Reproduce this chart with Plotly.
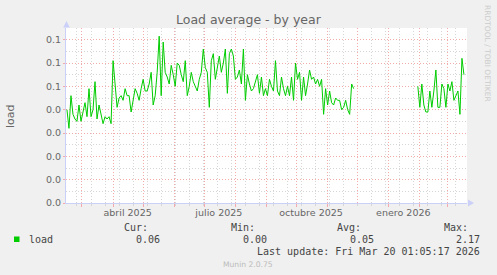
import plotly.graph_objects as go
import pandas as pd

# ---------------- data ----------------
title_text = "Load average - by year"
y_title = "load"
series_name = "load"

seg1_start = "2025-02-14"
seg1_values = [
    0.040, 0.032, 0.046, 0.038, 0.036, 0.035, 0.042, 0.035, 0.039, 0.043,
    0.037, 0.049, 0.037, 0.040, 0.052, 0.036, 0.042, 0.038, 0.034, 0.037,
    0.036, 0.037, 0.034, 0.061, 0.049, 0.041, 0.045, 0.046, 0.044, 0.049,
    0.046, 0.046, 0.039, 0.044, 0.049, 0.047, 0.044, 0.049, 0.053, 0.048,
    0.048, 0.051, 0.056, 0.042, 0.046, 0.056, 0.0715, 0.046, 0.069, 0.056,
    0.054, 0.051, 0.059, 0.055, 0.050, 0.060, 0.059, 0.055, 0.052, 0.061,
    0.046, 0.050, 0.056, 0.052, 0.050, 0.048, 0.053, 0.056, 0.066, 0.058,
    0.056, 0.041, 0.061, 0.064, 0.053, 0.059, 0.063, 0.056, 0.060, 0.066,
    0.047, 0.064, 0.066, 0.063, 0.053, 0.054, 0.057, 0.051, 0.066, 0.044,
    0.055, 0.051, 0.048, 0.049, 0.052, 0.055, 0.047, 0.054, 0.046, 0.049,
    0.046, 0.053, 0.050, 0.048, 0.061, 0.048, 0.046, 0.054, 0.049, 0.046,
    0.050, 0.046, 0.054, 0.044, 0.060, 0.053, 0.056, 0.044, 0.054, 0.046,
    0.051, 0.057, 0.053, 0.054, 0.051, 0.053, 0.050, 0.053, 0.038, 0.049,
    0.042, 0.048, 0.043, 0.042, 0.045, 0.044, 0.044, 0.040, 0.041, 0.044,
    0.040, 0.038, 0.051, 0.049,
]
seg2_start = "2026-01-30"
seg2_values = [
    0.050, 0.041, 0.051, 0.042, 0.039, 0.039, 0.048, 0.041, 0.048, 0.057,
    0.041, 0.041, 0.051, 0.049, 0.041, 0.051, 0.048, 0.052, 0.044, 0.046,
    0.048, 0.038, 0.062, 0.055,
]
gap_date = "2025-12-30"

x_start = "2025-02-13 01:05:17"
x_end = "2026-03-20 01:05:17"

y_tickvals = [0.00, 0.01, 0.02, 0.03, 0.04, 0.05, 0.06, 0.07]
y_ticktext = ["0.0", "0.0", "0.0", "0.0", "0.0", "0.1", "0.1", "0.1"]
y_max = 0.075
y_minor_step = 0.005

x_label_vals = ["2025-04-15 12:00", "2025-07-15 12:00",
                "2025-10-15 12:00", "2026-01-15 12:00"]
x_label_text = ["abril 2025", "julio 2025", "octubre 2025", "enero 2026"]
month_starts = pd.date_range("2025-03-01", "2026-03-01", freq="MS")
biweekly = pd.date_range("2025-02-24", "2026-03-19", freq="14D")

stat_names = ["Cur:", "Min:", "Avg:", "Max:"]
stat_values = ["0.06", "0.00", "0.05", "2.17"]
last_update = "Last update: Fri Mar 20 01:05:17 2026"
watermark = "RRDTOOL / TOBI OETIKER"
footer = "Munin 2.0.75"

# ---------------- styling ----------------
W, H = 497, 275
L, R, T, B = 66, 30, 28, 72
PW, PH = W - L - R, H - T - B

def px(x):
    return (x - L) / PW

def py(y):
    return (H - B - y) / PH

GREEN = "#00CC00"
FONT = "#666666"
AXIS = "#CAD0F8"
MGRID = "#F2AAAA"
GRID = "#D6D6D6"
SANS = "DejaVu Sans"
MONO = "DejaVu Sans Mono"

x1 = pd.date_range(seg1_start, periods=len(seg1_values), freq="2D")
x2 = pd.date_range(seg2_start, periods=len(seg2_values), freq="2D")
xs = list(x1) + [pd.Timestamp(gap_date)] + list(x2)
ys = list(seg1_values) + [None] + list(seg2_values)

fig = go.Figure()
fig.add_trace(go.Scatter(x=xs, y=ys, mode="lines", name=series_name,
                         line=dict(color=GREEN, width=1), connectgaps=False,
                         hoverinfo="skip", showlegend=False))
fig.add_trace(go.Scatter(x=[x_start, x_end], y=[0, 0], xaxis="x2", mode="markers",
                         marker=dict(opacity=0), hoverinfo="skip", showlegend=False))

dots = "1px,2px"
fig.update_layout(
    width=W, height=H,
    margin=dict(l=L, r=R, t=T, b=B, autoexpand=False),
    paper_bgcolor="#F0F0F0", plot_bgcolor="#FFFFFF",
    showlegend=False,
    font=dict(family=SANS, color=FONT, size=9.5),
    xaxis=dict(
        type="date", range=[x_start, x_end], tickmode="array",
        tickvals=list(month_starts), ticktext=[""] * len(month_starts),
        showgrid=True, gridcolor=MGRID, griddash=dots, gridwidth=1,
        ticks="outside", ticklen=3, tickcolor=MGRID, tickwidth=1,
        showline=True, linecolor=AXIS, linewidth=1, zeroline=False,
        minor=dict(tickvals=list(biweekly), showgrid=True, gridcolor=GRID,
                   griddash=dots, gridwidth=1, ticks="outside", ticklen=2,
                   tickcolor=GRID),
        fixedrange=True,
    ),
    xaxis2=dict(
        type="date", range=[x_start, x_end], overlaying="x", anchor="y",
        side="bottom", tickmode="array", tickvals=x_label_vals,
        ticktext=x_label_text, showgrid=False, ticks="", showline=False,
        zeroline=False, tickfont=dict(size=9.5, color=FONT, family=SANS),
        ticklabelstandoff=2,
    ),
    yaxis=dict(
        range=[0, y_max], tickmode="array", tickvals=y_tickvals,
        ticktext=y_ticktext, showgrid=True, gridcolor=MGRID, griddash=dots,
        ticks="outside", ticklen=2, tickcolor=MGRID,
        showline=True, linecolor=AXIS, linewidth=1, zeroline=False,
        tickfont=dict(size=9.5, color=FONT, family=SANS),
        minor=dict(tick0=0, dtick=y_minor_step, showgrid=True, gridcolor=GRID,
                   griddash=dots),
        fixedrange=True,
    ),
)

ann = []
ann.append(dict(text=title_text, x=px(248.5), y=py(19.5), xref="paper", yref="paper",
                showarrow=False, xanchor="center", yanchor="middle",
                font=dict(family=SANS, size=12.5, color=FONT)))
ann.append(dict(text=y_title, x=px(10.5), y=py(115.5), xref="paper", yref="paper",
                showarrow=False, xanchor="center", yanchor="middle", textangle=-90,
                font=dict(family=SANS, size=11, color=FONT)))
ann.append(dict(text=watermark, x=px(487.5), y=py(53.5), xref="paper", yref="paper",
                showarrow=False, xanchor="center", yanchor="middle", textangle=90,
                font=dict(family=SANS, size=7.5, color="#CCCCCC")))
name_right = [150, 257, 363, 470]
val_right = [162.3, 269, 375.7, 482.3]
for nm, xr in zip(stat_names, name_right):
    ann.append(dict(text=nm, x=px(xr), y=py(227.7), xref="paper", yref="paper",
                    showarrow=False, xanchor="right", yanchor="middle",
                    font=dict(family=MONO, size=10, color="#444444")))
for v, xr in zip(stat_values, val_right):
    ann.append(dict(text=v, x=px(xr), y=py(239.3), xref="paper", yref="paper",
                    showarrow=False, xanchor="right", yanchor="middle",
                    font=dict(family=MONO, size=10, color="#444444")))
ann.append(dict(text=series_name, x=px(26.7), y=py(239.3), xref="paper", yref="paper",
                showarrow=False, xanchor="left", yanchor="middle",
                font=dict(family=MONO, size=10, color="#444444")))
ann.append(dict(text=last_update, x=px(482.3), y=py(251.7), xref="paper", yref="paper",
                showarrow=False, xanchor="right", yanchor="middle",
                font=dict(family=MONO, size=10, color="#444444")))
ann.append(dict(text=footer, x=px(248), y=py(264.3), xref="paper", yref="paper",
                showarrow=False, xanchor="center", yanchor="middle",
                font=dict(family=SANS, size=7.6, color="#BBBBBB")))
fig.update_layout(annotations=ann)

def tri(pts):
    return "M " + " L ".join(f"{px(a)} {py(b)}" for a, b in pts) + " Z"

shapes = [
    dict(type="path", xref="paper", yref="paper",
         path=tri([(468, 199.5), (468, 206.5), (474, 203)]),
         fillcolor=AXIS, line=dict(width=0)),
    dict(type="path", xref="paper", yref="paper",
         path=tri([(63.2, 27.5), (69.8, 27.5), (66.5, 21)]),
         fillcolor=AXIS, line=dict(width=0)),
    dict(type="rect", xref="paper", yref="paper",
         x0=px(14), x1=px(19.5), y0=py(242), y1=py(236.5),
         fillcolor=GREEN, line=dict(width=0)),
]
fig.update_layout(shapes=shapes)

fig.write_html("out.html")
